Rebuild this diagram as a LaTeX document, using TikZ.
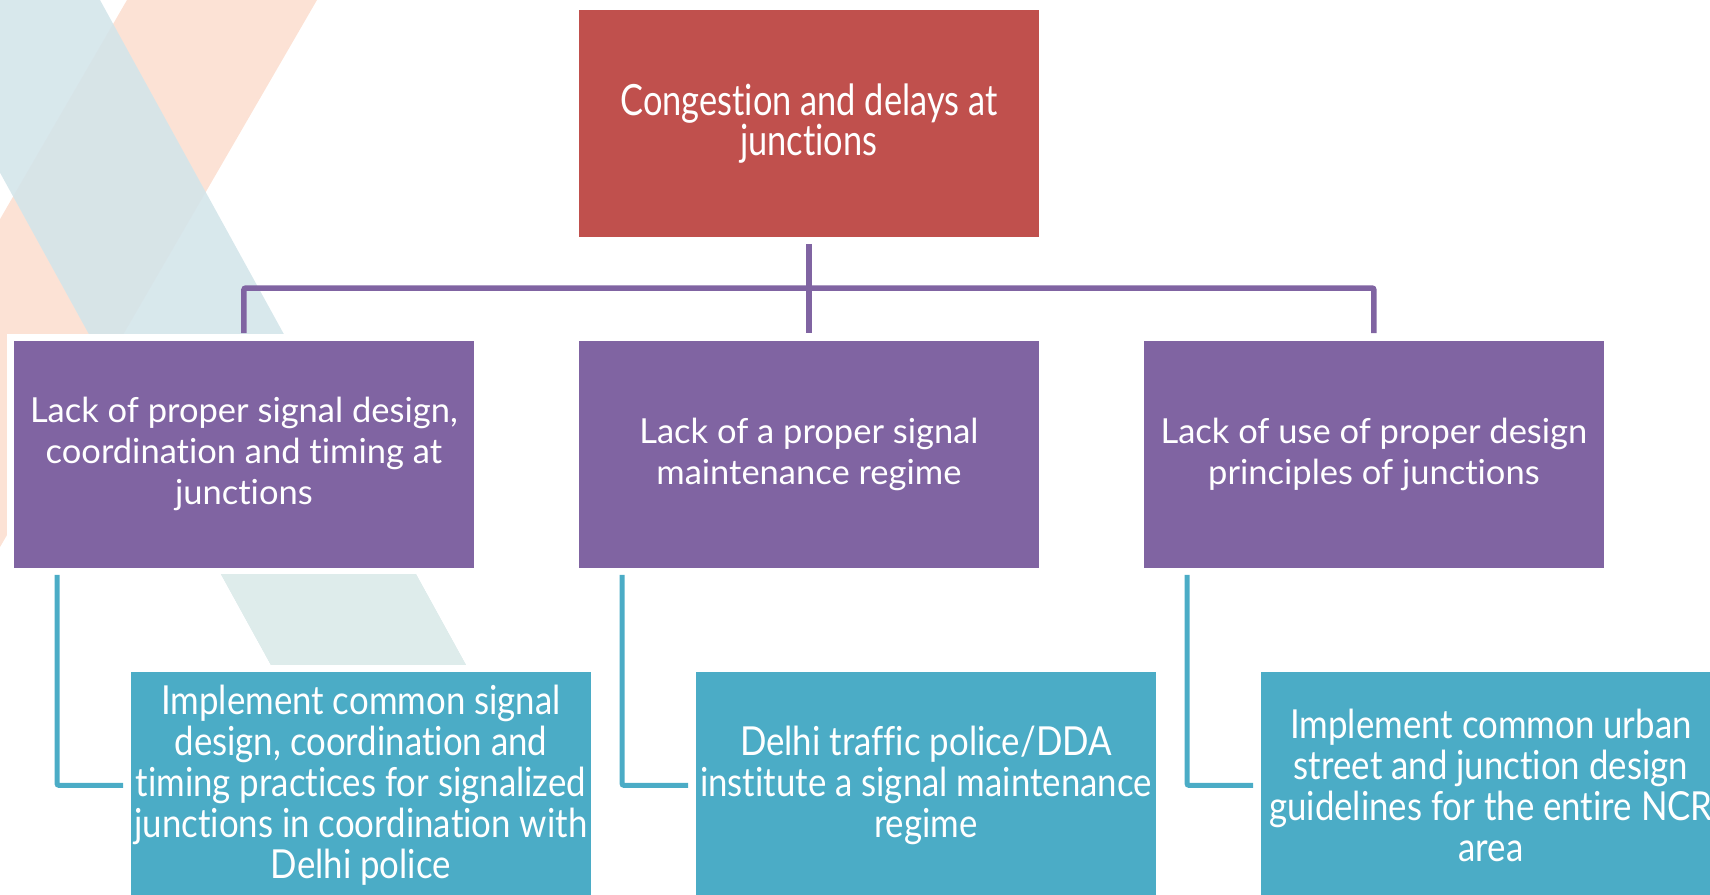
\documentclass[tikz,border=0pt]{standalone}
\usepackage{fontspec}
\setmainfont[Ligatures=NoCommon]{Lato}
\newfontfamily\topfont[FakeStretch=0.8,Ligatures=NoCommon]{Lato}
\newfontfamily\lowfont[FakeStretch=0.87,Ligatures=NoCommon]{Lato}
\definecolor{cred}{HTML}{C0504D}
\definecolor{cpurple}{HTML}{8064A2}
\definecolor{cteal}{HTML}{4BACC6}
\definecolor{bgpeach}{HTML}{FCE2D5}
\definecolor{bgblue}{HTML}{D4E5EA}
\definecolor{bgbluelow}{HTML}{DEECEB}
\tikzset{
  box/.style={rectangle, anchor=north west, minimum width=461pt, minimum height=228pt,
    inner sep=0pt, text=white, align=center, draw=white, line width=0.8pt,
    preaction={draw=white, line width=12pt}},
  topbox/.style={box, fill=cred, font=\topfont\fontsize{43}{40}\selectfont},
  midbox/.style={box, fill=cpurple, font=\fontsize{34.5}{41}\selectfont},
  lowbox/.style={box, fill=cteal, font=\lowfont\fontsize{40}{41}\selectfont},
  pline/.style={draw=cpurple, line width=5.5pt, rounded corners=2pt},
  tline/.style={draw=cteal, line width=5pt, rounded corners=2pt}
}
\begin{document}
\begin{tikzpicture}[x=1pt,y=-1pt]
\useasboundingbox (0,0) rectangle (1710,894);
\begin{scope}
\clip (0,0) rectangle (1710,894);
\fill[bgpeach] (127,0) -- (317,0) -- (-201,894) -- (-391,894) -- cycle;
\fill[bgblue, opacity=0.9] (-95,0) -- (100,0) -- (592,894) -- (397,894) -- cycle;
\begin{scope}
\clip (0,567) rectangle (1710,894);
\fill[bgbluelow] (-95,0) -- (100,0) -- (592,894) -- (397,894) -- cycle;
\end{scope}

\node[topbox] (top) at (578,9) {Congestion and delays at\\junctions};
\node[midbox] (L1) at (13,340) {Lack of proper signal design,\\coordination and timing at\\junctions};
\node[midbox] (L2) at (578,340) {Lack of a proper signal\\maintenance regime};
\node[midbox] (L3) at (1143,340) {Lack of use of proper design\\principles of junctions};
\node[lowbox] (S1) at (130,671) {Implement common signal\\design, coordination and\\timing practices for signalized\\junctions in coordination with\\Delhi police};
\node[lowbox] (S2) at (695,671) {Delhi traffic police/DDA\\institute a signal maintenance\\regime};
\node[lowbox] (S3) at (1260,671) {Implement common urban\\street and junction design\\guidelines for the entire NCR\\area};

\coordinate (hb) at (808,288);
\draw[pline] ([yshift=-6pt]top.south) -- ([yshift=7pt]L2.north);
\draw[pline] ([yshift=7pt]L1.north) |- (hb) -| ([yshift=7pt]L3.north);

\draw[tline] ([xshift=44pt,yshift=-6pt]L1.south west) |- ([xshift=-7pt]S1.west);
\draw[tline] ([xshift=44pt,yshift=-6pt]L2.south west) |- ([xshift=-7pt]S2.west);
\draw[tline] ([xshift=44pt,yshift=-6pt]L3.south west) |- ([xshift=-7pt]S3.west);
\end{scope}
\end{tikzpicture}
\end{document}
